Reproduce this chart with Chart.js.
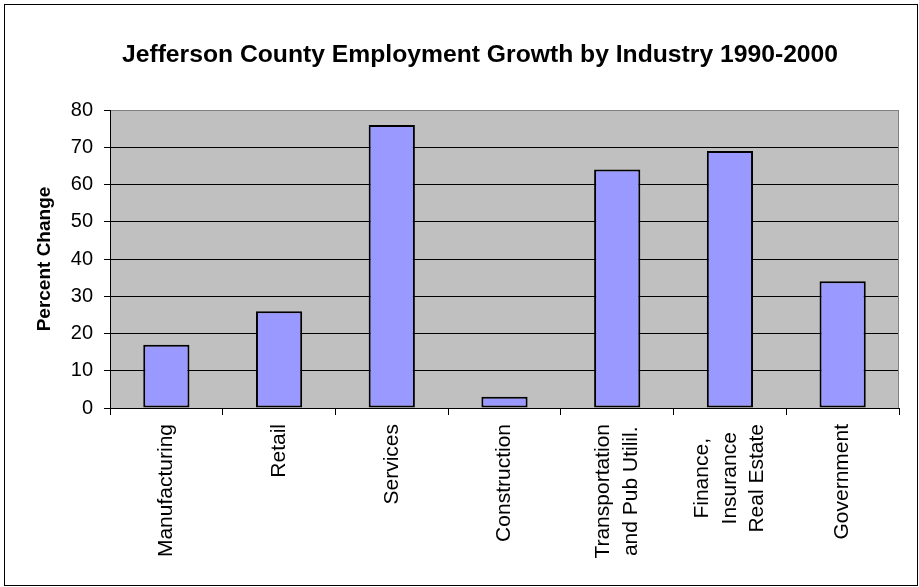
<!DOCTYPE html>
<html>
<head>
<meta charset="utf-8">
<title>Jefferson County Employment Growth by Industry 1990-2000</title>
<script src="https://cdn.jsdelivr.net/npm/chart.js@4.4.0/dist/chart.umd.min.js"></script>
<style>
  html, body { margin: 0; padding: 0; background: #fff; }
</style>
</head>
<body>
<canvas id="growthChart" width="919" height="587"></canvas>
<script>
// industries (multi-line labels), growth values and axis ticks
const industries = [
  ["Manufacturing"],
  ["Retail"],
  ["Services"],
  ["Construction"],
  ["Transportation", "and Pub Utilil."],
  ["Finance,", "Insurance", "Real Estate"],
  ["Government"]
];
const percentChange = [17, 26, 76, 3, 64, 69, 34];
const yTicks = [0, 10, 20, 30, 40, 50, 60, 70, 80];
const chartTitle = "Jefferson County Employment Growth by Industry 1990-2000";
const yAxisTitle = "Percent Change";

const FONT = "'Liberation Sans', Arial, sans-serif";

// grey plot background, outer frame, title and rotated category labels
const framePlugin = {
  id: "frame",
  beforeDraw(chart) {
    const { ctx, chartArea: a } = chart;
    ctx.save();
    ctx.fillStyle = "#fff";
    ctx.fillRect(0, 0, chart.width, chart.height);
    ctx.fillStyle = "#c0c0c0";
    ctx.fillRect(a.left, a.top, a.right - a.left, a.bottom - a.top);
    ctx.strokeStyle = "#000";
    ctx.lineWidth = 1;
    ctx.strokeRect(4.5, 4.5, chart.width - 6, chart.height - 6);
    ctx.restore();
  },
  beforeDatasetsDraw(chart) {
    const { ctx, chartArea: a } = chart;
    ctx.save();
    ctx.strokeStyle = "#808080";
    ctx.lineWidth = 1;
    ctx.beginPath();
    ctx.moveTo(Math.round(a.right) - 0.5, a.top);
    ctx.lineTo(Math.round(a.right) - 0.5, a.bottom);
    ctx.stroke();
    ctx.restore();
  },
  afterDraw(chart) {
    const { ctx } = chart;
    const xScale = chart.scales.x;
    ctx.save();
    ctx.fillStyle = "#000";

    ctx.font = "bold 24.7px " + FONT;
    ctx.textAlign = "center";
    ctx.textBaseline = "alphabetic";
    ctx.fillText(chartTitle, 480, 62);

    // category labels: rotated, lines centred on the tick, block hung below the axis
    ctx.font = "21px " + FONT;
    ctx.textBaseline = "middle";
    const lineH = 27.5;
    const top = xScale.top + 16;
    industries.forEach((lines, i) => {
      const x = xScale.getPixelForValue(i);
      const longest = Math.max(...lines.map(l => ctx.measureText(l).width));
      ctx.save();
      ctx.translate(x, top + longest / 2);
      ctx.rotate(-Math.PI / 2);
      lines.forEach((l, j) => {
        ctx.fillText(l, 0, (j - (lines.length - 1) / 2) * lineH);
      });
      ctx.restore();
    });
    ctx.restore();
  }
};

new Chart(document.getElementById("growthChart"), {
  type: "bar",
  data: {
    labels: industries.map(l => l.join(" ")),
    datasets: [{
      data: percentChange,
      backgroundColor: "#9999ff",
      borderColor: "#000",
      borderWidth: 2,
      borderSkipped: false,
      categoryPercentage: 1,
      barPercentage: 0.41
    }]
  },
  options: {
    responsive: false,
    animation: false,
    devicePixelRatio: 1,
    layout: { padding: { top: 110, right: 20, bottom: 0, left: 0 } },
    plugins: {
      legend: { display: false },
      title: { display: false },
      tooltip: { enabled: false }
    },
    scales: {
      x: {
        grid: {
          offset: true,
          drawOnChartArea: false,
          drawTicks: true,
          tickLength: 7,
          tickColor: "#000"
        },
        border: { color: "#000", width: 1 },
        ticks: { display: false },
        afterFit(scale) { scale.height = 179; }
      },
      y: {
        min: yTicks[0],
        max: yTicks[yTicks.length - 1],
        grid: {
          color: c => (c.tick && c.tick.value === yTicks[yTicks.length - 1]) ? "#808080" : "#000",
          tickColor: "#000",
          tickLength: 6,
          lineWidth: 1
        },
        border: { color: "#000", width: 1 },
        ticks: {
          stepSize: yTicks[1] - yTicks[0],
          color: "#000",
          padding: 11,
          font: { family: FONT, size: 20 }
        },
        title: {
          display: true,
          text: yAxisTitle,
          color: "#000",
          padding: { top: 33.6, bottom: 0 },
          font: { family: FONT, size: 19, weight: "bold" }
        },
        afterFit(scale) { scale.width = 110; }
      }
    }
  },
  plugins: [framePlugin]
});
</script>
</body>
</html>
